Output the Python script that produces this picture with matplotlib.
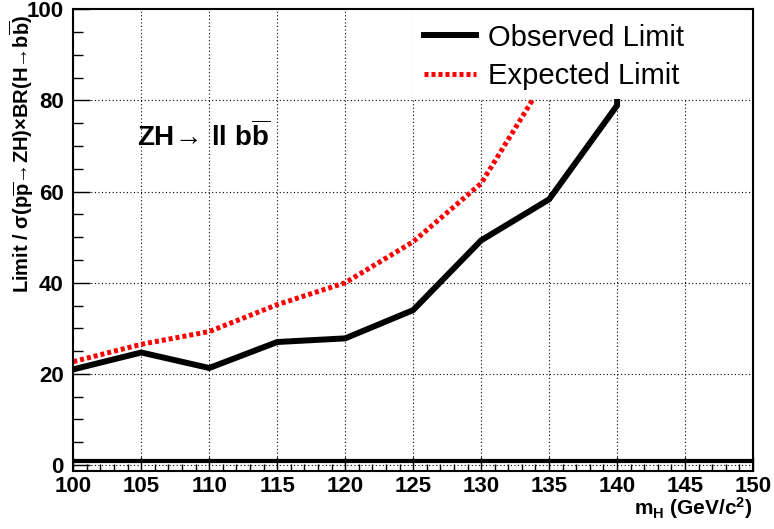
import numpy as np
import matplotlib
matplotlib.use('Agg')
import matplotlib.pyplot as plt
from matplotlib.ticker import MultipleLocator
from matplotlib.patches import Rectangle

# DATA ------------------------------------------------
mass = [100, 105, 110, 115, 120, 125, 130, 135, 140, 145, 150]
observed = [21.0, 24.7, 21.3, 27.0, 27.8, 34.0, 49.3, 58.3, 78.9, 800.0, 1500.0]
expected = [22.7, 26.5, 29.3, 35.2, 40.0, 49.0, 61.8, 86.0, 120.0, 200.0, 350.0]
sm_line = 1.0

plt.rcParams['font.family'] = ['Liberation Sans', 'DejaVu Sans']
plt.rcParams['mathtext.fontset'] = 'custom'
plt.rcParams['mathtext.rm'] = 'Liberation Sans:bold'
plt.rcParams['mathtext.it'] = 'Liberation Sans:bold'
plt.rcParams['mathtext.bf'] = 'Liberation Sans:bold'

fig = plt.figure(figsize=(7.74, 5.29), dpi=100)
ax = fig.add_axes([73.3 / 774, 1 - 471 / 529, (753 - 73.3) / 774, (471 - 9.3) / 529])

# grid
for gx in range(105, 150, 5):
    ax.axvline(gx, color='black', lw=0.8, ls=(0, (1, 2.2)), zorder=1)
for gy in [0, 20, 40, 60, 80]:
    ax.axhline(gy, color='black', lw=0.8, ls=(0, (1, 2.2)), zorder=1)

ax.axhline(sm_line, color='black', lw=3.0, zorder=2)
ax.plot(mass, observed, color='black', lw=4.3, solid_joinstyle='miter',
        label='Observed Limit', zorder=2)
ax.plot(mass, expected, color='#ff0000', lw=3.6, ls=(0, (0.8, 0.6)),
        label='Expected Limit', zorder=2)

ax.set_xlim(100, 150)
ax.set_ylim(-1.3, 100)

# white legend pad (covers the curves, as in the original)
ax.add_patch(Rectangle((125, 80.4), 25, 20, facecolor='white', edgecolor='none', zorder=2.2))

ax.xaxis.set_major_locator(MultipleLocator(5))
ax.xaxis.set_minor_locator(MultipleLocator(1))
ax.yaxis.set_major_locator(MultipleLocator(20))
ax.yaxis.set_minor_locator(MultipleLocator(5))
ax.tick_params(axis='both', which='both', direction='in', top=False, right=False, width=1.0)
ax.tick_params(axis='x', which='major', length=10, pad=3.5)
ax.tick_params(axis='x', which='minor', length=5)
ax.tick_params(axis='y', which='major', length=12, pad=7)
ax.tick_params(axis='y', which='minor', length=7)
for lab in ax.get_xticklabels() + ax.get_yticklabels():
    lab.set_fontsize(16)
    lab.set_fontweight('bold')
for sp in ax.spines.values():
    sp.set_linewidth(1.5)

ax.text(104.7, 72, r'ZH$\!\rightarrow\!$ ll b$\overline{\rm b}$', fontsize=20,
        fontweight='bold', va='center', ha='left', zorder=4)

leg = ax.legend(loc='upper left', bbox_to_anchor=(0.505, 0.985), fontsize=21,
                frameon=False, handlelength=1.8, handletextpad=0.4,
                labelspacing=0.35, borderpad=0.25, borderaxespad=0.0)
leg.set_zorder(5)

fig.text(21.5 / 774, 1 - 15 / 529,
         r'Limit / σ(p$\overline{\rm p}$→ZH)×BR(H→b$\overline{\rm b}$)',
         rotation=90, ha='center', va='top', fontsize=14.5, fontweight='bold')
fig.text(753 / 774, 1 - 508 / 529, r'm$_{\rm H}$ (GeV/c$^{2}$)', ha='right', va='center',
         fontsize=15, fontweight='bold')

plt.savefig('out.png', dpi=100)
